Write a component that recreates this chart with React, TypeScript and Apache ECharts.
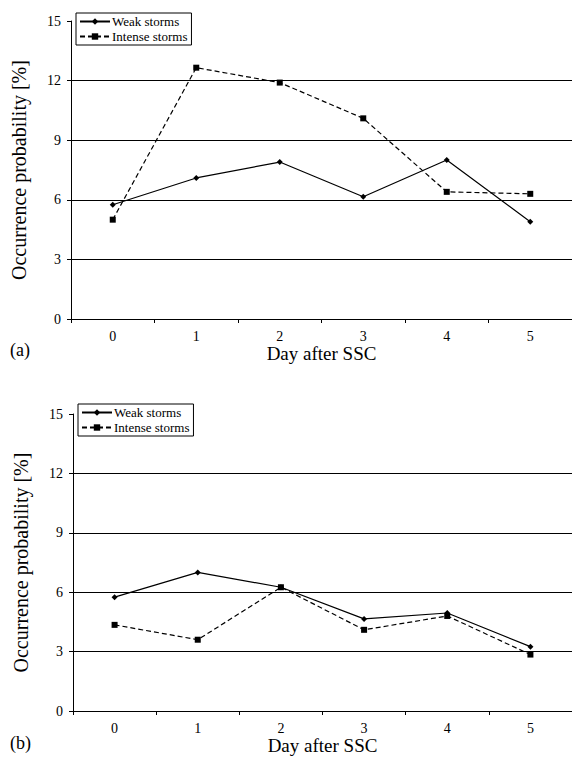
import React, { useEffect, useRef } from "react";
import * as echarts from "echarts";

const days = ["0", "1", "2", "3", "4", "5"];
const yTicks = [0, 3, 6, 9, 12, 15];
const weakA = [5.75, 7.1, 7.9, 6.15, 8.0, 4.9];
const intenseA = [5.0, 12.65, 11.9, 10.1, 6.4, 6.3];
const weakB = [5.75, 7.0, 6.25, 4.65, 4.95, 3.25];
const intenseB = [4.35, 3.6, 6.25, 4.1, 4.8, 2.85];
const seriesNames = ["Weak storms", "Intense storms"];
const panelLabels = ["(a)", "(b)"];
const xTitle = "Day after SSC";
const yTitle = "Occurrence probability [%]";

const FONT = "Liberation Serif";

export default function App() {
  const ref = useRef<HTMLDivElement>(null);
  useEffect(() => {
    document.body.style.margin = "0";
    const chart = echarts.init(ref.current!, null, { renderer: "svg" });
    const grids = [
      { left: 71, top: 21, right: 0, height: 298 },
      { left: 73, top: 414, right: 0, height: 297 },
    ];
    const mkX = (i: number) => ({
      type: "category",
      gridIndex: i,
      data: days,
      boundaryGap: true,
      axisLine: { lineStyle: { color: "#000", width: 1 } },
      axisTick: { show: true, length: 4, lineStyle: { color: "#000" } },
      axisLabel: { fontFamily: FONT, fontSize: 14, color: "#000", margin: 10 },
      name: xTitle,
      nameLocation: "middle",
      nameGap: 24,
      nameTextStyle: { fontFamily: FONT, fontSize: 19, color: "#000", verticalAlign: "top" },
    });
    const mkY = (i: number) => ({
      type: "value",
      gridIndex: i,
      min: yTicks[0],
      max: yTicks[yTicks.length - 1],
      interval: 3,
      axisLine: { show: true, lineStyle: { color: "#000", width: 1 } },
      axisTick: { show: true, length: 4, lineStyle: { color: "#000" } },
      axisLabel: { fontFamily: FONT, fontSize: 14, color: "#000", margin: 10 },
      splitLine: {
        show: true,
        showMaxLine: false,
        showMinLine: false,
        lineStyle: { color: "#000", width: 1 },
      },
      name: yTitle,
      nameLocation: "middle",
      nameRotate: 90,
      nameGap: 42,
      nameTextStyle: { fontFamily: FONT, fontSize: 20, color: "#000" },
    });
    const mkSeries = (name: string, data: number[], i: number, dashed: boolean) => ({
      type: "line",
      name,
      xAxisIndex: i,
      yAxisIndex: i,
      data,
      symbol: dashed ? "rect" : "diamond",
      symbolSize: 6,
      itemStyle: { color: "#000" },
      lineStyle: { color: "#000", width: 1.2, type: dashed ? [5, 3] : "solid" },
      emphasis: { disabled: true },
    });
    const mkLegend = (left: number, top: number) => ({
      orient: "vertical",
      left,
      top,
      data: seriesNames,
      borderColor: "#000",
      borderWidth: 1,
      padding: [2, 4, 2, 3],
      itemGap: 2,
      itemWidth: 30,
      itemHeight: 8,
      textStyle: { fontFamily: FONT, fontSize: 13, color: "#000", padding: [0, 0, 0, -3] },
    });
    chart.setOption({
      animation: false,
      backgroundColor: "#fff",
      textStyle: { fontFamily: FONT },
      grid: grids,
      xAxis: [mkX(0), mkX(1)],
      yAxis: [mkY(0), mkY(1)],
      legend: [mkLegend(76, 13), mkLegend(78, 404)],
      series: [
        mkSeries(seriesNames[0], weakA, 0, false),
        mkSeries(seriesNames[1], intenseA, 0, true),
        mkSeries(seriesNames[0], weakB, 1, false),
        mkSeries(seriesNames[1], intenseB, 1, true),
      ],
      graphic: [
        {
          type: "text",
          left: 10,
          top: 341,
          style: { text: panelLabels[0], fontFamily: FONT, fontSize: 18, fill: "#000" },
        },
        {
          type: "text",
          left: 10,
          top: 734,
          style: { text: panelLabels[1], fontFamily: FONT, fontSize: 18, fill: "#000" },
        },
      ],
    });
    return () => chart.dispose();
  }, []);
  return <div ref={ref} style={{ width: 572, height: 763 }} />;
}
